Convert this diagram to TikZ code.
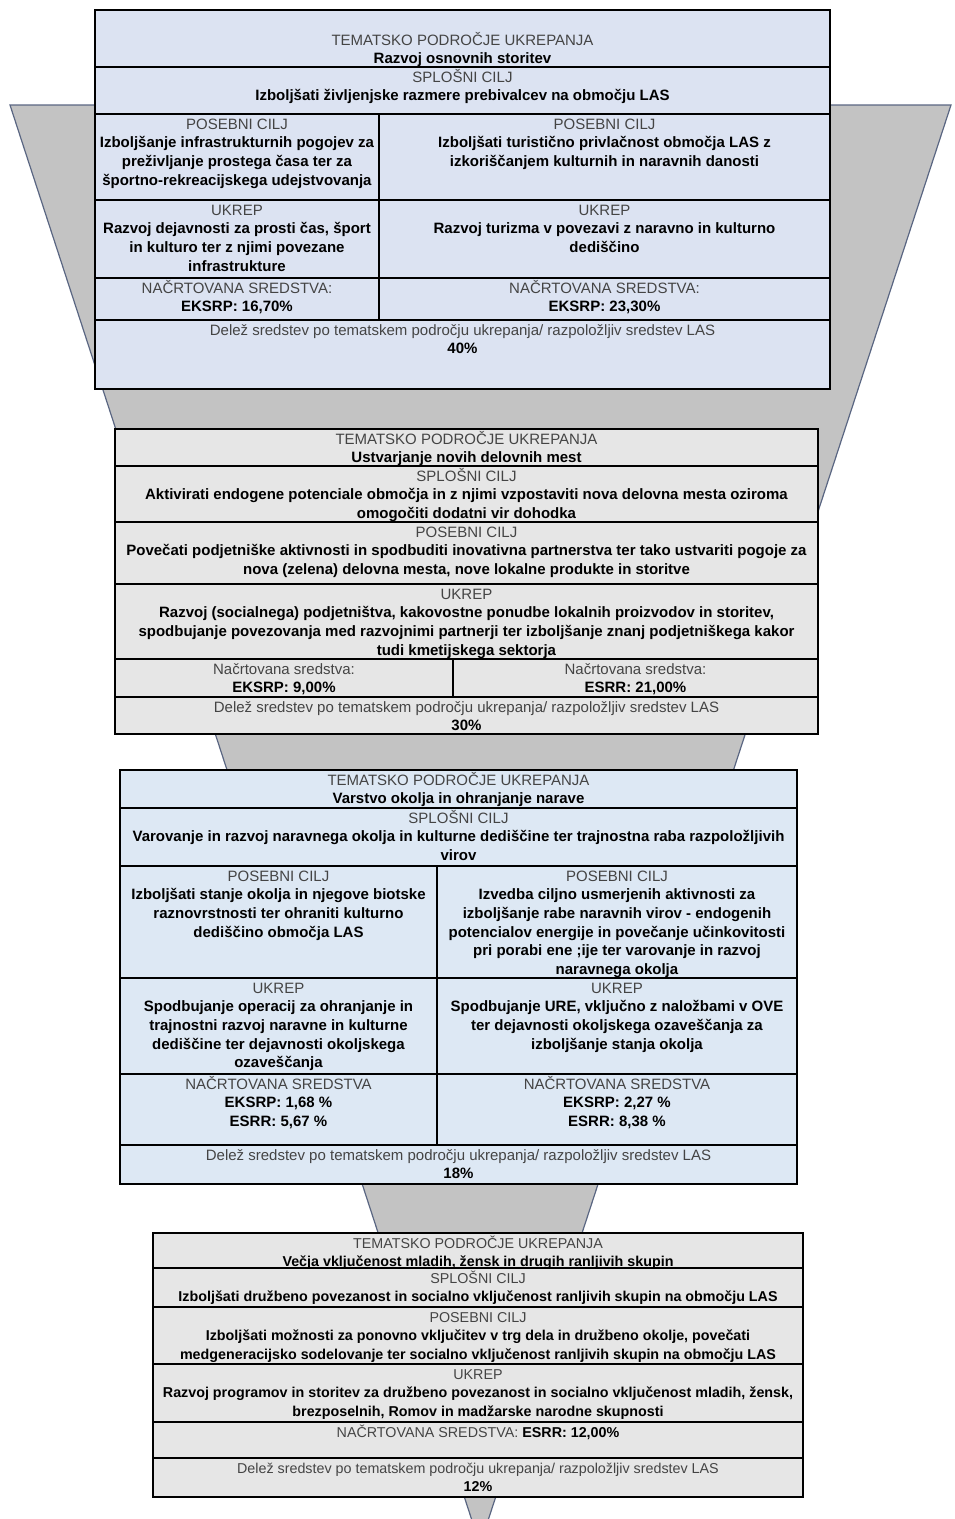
\documentclass[tikz,border=0pt]{standalone}
\usepackage{fontspec}
\setmainfont{Liberation Sans}
\usepackage{xcolor}
\usetikzlibrary{positioning}
\definecolor{funnelfill}{HTML}{C3C3C3}
\definecolor{funneledge}{HTML}{5A6682}
\definecolor{boxblue}{HTML}{DCE3F2}
\definecolor{boxsky}{HTML}{DDE8F4}
\definecolor{boxgrey}{HTML}{E6E6E6}
\definecolor{labelgrey}{HTML}{444444}
\tikzset{
    cell/.style={
        draw=black,
        line width=1.3pt,
        anchor=north west,
        inner sep=0pt,
        outer sep=0pt
    },
    bluecell/.style={cell, fill=boxblue},
    skycell/.style={cell, fill=boxsky},
    greycell/.style={cell, fill=boxgrey},
    celltext/.style={
        align=center,
        inner sep=0pt,
        font=\fontsize{15}{18.6}\selectfont
    },
    smalltext/.style={
        celltext,
        font=\fontsize{14.3}{18.6}\selectfont
    },
    funnel/.style={
        fill=funnelfill,
        draw=funneledge,
        line width=1.2pt
    }
}
\newcommand{\lbl}[1]{\strut\textcolor{labelgrey}{#1}}

\begin{document}
\begin{tikzpicture}[x=1pt, y=-1pt]

\useasboundingbox (0,0) rectangle (954,1519);

% Funnel behind the boxes
\coordinate (ftl) at (10,105);
\coordinate (ftr) at (951,105);
\coordinate (fapex) at (480,1545);
\draw[funnel] (ftl) -- (ftr) -- (fapex) -- cycle;

% Box 1 - Razvoj osnovnih storitev
\node[bluecell, minimum width=735, minimum height=57] (b1tema) at (95,10) {};
\node[bluecell, minimum width=735, minimum height=47] (b1spl) at (95,67) {};
\node[bluecell, minimum width=284, minimum height=86] (b1posL) at (95,114) {};
\node[bluecell, minimum width=451, minimum height=86] (b1posR) at (379,114) {};
\node[bluecell, minimum width=284, minimum height=78] (b1ukrL) at (95,200) {};
\node[bluecell, minimum width=451, minimum height=78] (b1ukrR) at (379,200) {};
\node[bluecell, minimum width=284, minimum height=42] (b1srL) at (95,278) {};
\node[bluecell, minimum width=451, minimum height=42] (b1srR) at (379,278) {};
\node[bluecell, minimum width=735, minimum height=69] (b1del) at (95,320) {};

\node[celltext, below=22pt of b1tema.north] (b1temat) {\lbl{TEMATSKO PODROČJE UKREPANJA}\\\textbf{Razvoj osnovnih storitev}};
\node[celltext, below=2pt of b1spl.north] (b1splt) {\lbl{SPLOŠNI CILJ}\\\textbf{Izboljšati življenjske razmere prebivalcev na območju LAS}};
\node[celltext, below=2pt of b1posL.north] (b1posLt) {\lbl{POSEBNI CILJ}\\\textbf{Izboljšanje infrastrukturnih pogojev za}\\\textbf{preživljanje prostega časa ter za}\\\textbf{športno-rekreacijskega udejstvovanja}};
\node[celltext, below=2pt of b1posR.north] (b1posRt) {\lbl{POSEBNI CILJ}\\\textbf{Izboljšati turistično privlačnost območja LAS z}\\\textbf{izkoriščanjem kulturnih in naravnih danosti}};
\node[celltext, below=2pt of b1ukrL.north] (b1ukrLt) {\lbl{UKREP}\\\textbf{Razvoj dejavnosti za prosti čas, šport}\\\textbf{in kulturo ter z njimi povezane}\\\textbf{infrastrukture}};
\node[celltext, below=2pt of b1ukrR.north] (b1ukrRt) {\lbl{UKREP}\\\textbf{Razvoj turizma v povezavi z naravno in kulturno}\\\textbf{dediščino}};
\node[celltext, below=2pt of b1srL.north] (b1srLt) {\lbl{NAČRTOVANA SREDSTVA:}\\\textbf{EKSRP: 16,70\%}};
\node[celltext, below=2pt of b1srR.north] (b1srRt) {\lbl{NAČRTOVANA SREDSTVA:}\\\textbf{EKSRP: 23,30\%}};
\node[celltext, below=2pt of b1del.north] (b1delt) {\lbl{Delež sredstev po tematskem področju ukrepanja/ razpoložljiv sredstev LAS}\\\textbf{40\%}};

% Box 2 - Ustvarjanje novih delovnih mest
\node[greycell, minimum width=703, minimum height=37] (b2tema) at (115,429) {};
\node[greycell, minimum width=703, minimum height=56] (b2spl) at (115,466) {};
\node[greycell, minimum width=703, minimum height=62] (b2pos) at (115,522) {};
\node[greycell, minimum width=703, minimum height=75] (b2ukr) at (115,584) {};
\node[greycell, minimum width=338, minimum height=38] (b2srL) at (115,659) {};
\node[greycell, minimum width=365, minimum height=38] (b2srR) at (453,659) {};
\node[greycell, minimum width=703, minimum height=37] (b2del) at (115,697) {};

\node[celltext, below=2pt of b2tema.north] (b2temat) {\lbl{TEMATSKO PODROČJE UKREPANJA}\\\textbf{Ustvarjanje novih delovnih mest}};
\node[celltext, below=2pt of b2spl.north] (b2splt) {\lbl{SPLOŠNI CILJ}\\\textbf{Aktivirati endogene potenciale območja in z njimi vzpostaviti nova delovna mesta oziroma}\\\textbf{omogočiti dodatni vir dohodka}};
\node[celltext, below=2pt of b2pos.north] (b2post) {\lbl{POSEBNI CILJ}\\\textbf{Povečati podjetniške aktivnosti in spodbuditi inovativna partnerstva ter tako ustvariti pogoje za}\\\textbf{nova (zelena) delovna mesta, nove lokalne produkte in storitve}};
\node[celltext, below=2pt of b2ukr.north] (b2ukrt) {\lbl{UKREP}\\\textbf{Razvoj (socialnega) podjetništva, kakovostne ponudbe lokalnih proizvodov in storitev,}\\\textbf{spodbujanje povezovanja med razvojnimi partnerji ter izboljšanje znanj podjetniškega kakor}\\\textbf{tudi kmetijskega sektorja}};
\node[celltext, below=2pt of b2srL.north] (b2srLt) {\lbl{Načrtovana sredstva:}\\\textbf{EKSRP: 9,00\%}};
\node[celltext, below=2pt of b2srR.north] (b2srRt) {\lbl{Načrtovana sredstva:}\\\textbf{ESRR: 21,00\%}};
\node[celltext, below=2pt of b2del.north] (b2delt) {\lbl{Delež sredstev po tematskem področju ukrepanja/ razpoložljiv sredstev LAS}\\\textbf{30\%}};

% Box 3 - Varstvo okolja in ohranjanje narave
\node[skycell, minimum width=677, minimum height=38] (b3tema) at (120,770) {};
\node[skycell, minimum width=677, minimum height=58] (b3spl) at (120,808) {};
\node[skycell, minimum width=317, minimum height=112] (b3posL) at (120,866) {};
\node[skycell, minimum width=360, minimum height=112] (b3posR) at (437,866) {};
\node[skycell, minimum width=317, minimum height=96] (b3ukrL) at (120,978) {};
\node[skycell, minimum width=360, minimum height=96] (b3ukrR) at (437,978) {};
\node[skycell, minimum width=317, minimum height=71] (b3srL) at (120,1074) {};
\node[skycell, minimum width=360, minimum height=71] (b3srR) at (437,1074) {};
\node[skycell, minimum width=677, minimum height=39] (b3del) at (120,1145) {};

\node[celltext, below=2pt of b3tema.north] (b3temat) {\lbl{TEMATSKO PODROČJE UKREPANJA}\\\textbf{Varstvo okolja in ohranjanje narave}};
\node[celltext, below=2pt of b3spl.north] (b3splt) {\lbl{SPLOŠNI CILJ}\\\textbf{Varovanje in razvoj naravnega okolja in kulturne dediščine ter trajnostna raba razpoložljivih}\\\textbf{virov}};
\node[celltext, below=2pt of b3posL.north] (b3posLt) {\lbl{POSEBNI CILJ}\\\textbf{Izboljšati stanje okolja in njegove biotske}\\\textbf{raznovrstnosti ter ohraniti kulturno}\\\textbf{dediščino območja LAS}};
\node[celltext, below=2pt of b3posR.north] (b3posRt) {\lbl{POSEBNI CILJ}\\\textbf{Izvedba ciljno usmerjenih aktivnosti za}\\\textbf{izboljšanje rabe naravnih virov - endogenih}\\\textbf{potencialov energije in povečanje učinkovitosti}\\\textbf{pri porabi ene ;ije ter varovanje in razvoj}\\\textbf{naravnega okolja}};
\node[celltext, below=2pt of b3ukrL.north] (b3ukrLt) {\lbl{UKREP}\\\textbf{Spodbujanje operacij za ohranjanje in}\\\textbf{trajnostni razvoj naravne in kulturne}\\\textbf{dediščine ter dejavnosti okoljskega}\\\textbf{ozaveščanja}};
\node[celltext, below=2pt of b3ukrR.north] (b3ukrRt) {\lbl{UKREP}\\\textbf{Spodbujanje URE, vključno z naložbami v OVE}\\\textbf{ter dejavnosti okoljskega ozaveščanja za}\\\textbf{izboljšanje stanja okolja}};
\node[celltext, below=2pt of b3srL.north] (b3srLt) {\lbl{NAČRTOVANA SREDSTVA}\\\textbf{EKSRP: 1,68 \%}\\\textbf{ESRR: 5,67 \%}};
\node[celltext, below=2pt of b3srR.north] (b3srRt) {\lbl{NAČRTOVANA SREDSTVA}\\\textbf{EKSRP: 2,27 \%}\\\textbf{ESRR: 8,38 \%}};
\node[celltext, below=2pt of b3del.north] (b3delt) {\lbl{Delež sredstev po tematskem področju ukrepanja/ razpoložljiv sredstev LAS}\\\textbf{18\%}};

% Box 4 - Vecja vkljucenost mladih, zensk in drugih ranljivih skupin
\node[greycell, minimum width=650, minimum height=35] (b4tema) at (153,1233) {};
\node[greycell, minimum width=650, minimum height=39] (b4spl) at (153,1268) {};
\node[greycell, minimum width=650, minimum height=57] (b4pos) at (153,1307) {};
\node[greycell, minimum width=650, minimum height=58] (b4ukr) at (153,1364) {};
\node[greycell, minimum width=650, minimum height=36] (b4sr) at (153,1422) {};
\node[greycell, minimum width=650, minimum height=39] (b4del) at (153,1458) {};

\node[smalltext, below=2pt of b4tema.north] (b4temat) {\lbl{TEMATSKO PODROČJE UKREPANJA}\\\textbf{Večja vključenost mladih, žensk in drugih ranljivih skupin}};
\node[smalltext, below=2pt of b4spl.north] (b4splt) {\lbl{SPLOŠNI CILJ}\\\textbf{Izboljšati družbeno povezanost in socialno vključenost ranljivih skupin na območju LAS}};
\node[smalltext, below=2pt of b4pos.north] (b4post) {\lbl{POSEBNI CILJ}\\\textbf{Izboljšati možnosti za ponovno vključitev v trg dela in družbeno okolje, povečati}\\\textbf{medgeneracijsko sodelovanje ter socialno vključenost ranljivih skupin na območju LAS}};
\node[smalltext, below=2pt of b4ukr.north] (b4ukrt) {\lbl{UKREP}\\\textbf{Razvoj programov in storitev za družbeno povezanost in socialno vključenost mladih, žensk,}\\\textbf{brezposelnih, Romov in madžarske narodne skupnosti}};
\node[smalltext, below=2pt of b4sr.north] (b4srt) {\lbl{NAČRTOVANA SREDSTVA:} \textbf{ESRR: 12,00\%}};
\node[smalltext, below=2pt of b4del.north] (b4delt) {\lbl{Delež sredstev po tematskem področju ukrepanja/ razpoložljiv sredstev LAS}\\\textbf{12\%}};

\end{tikzpicture}
\end{document}
